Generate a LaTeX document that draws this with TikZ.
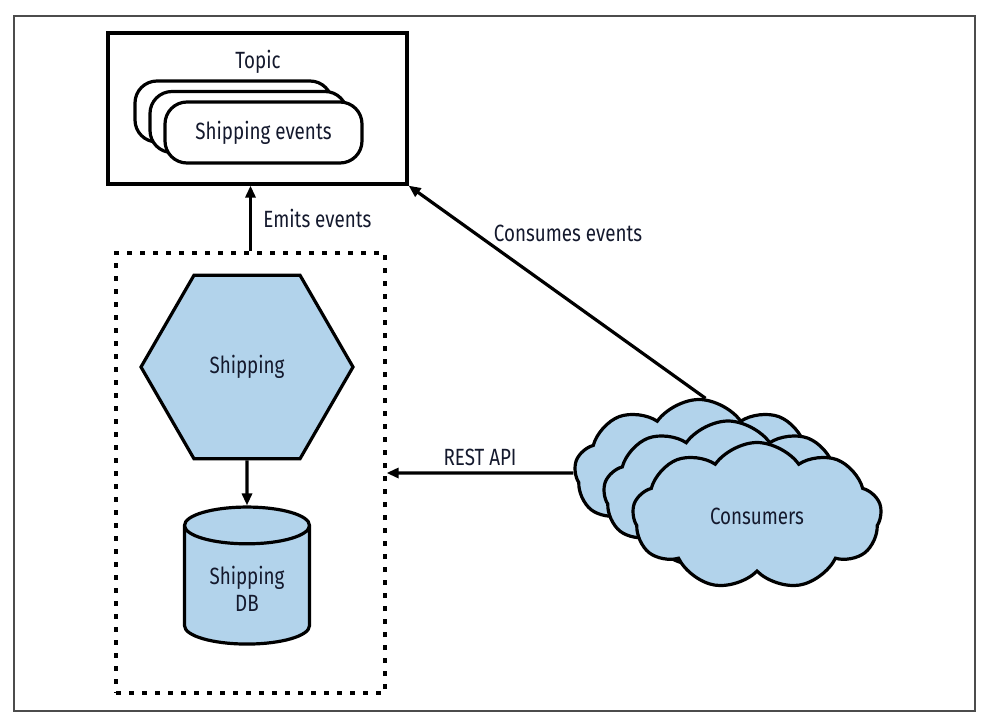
\documentclass[tikz,border=0pt]{standalone}
\usepackage{fontspec}
\setmainfont{Fira Sans}[FakeStretch=0.8]
\usetikzlibrary{arrows.meta, positioning, shapes.geometric, shapes.symbols}
\definecolor{lightblue}{RGB}{178,211,235}
\definecolor{textblue}{RGB}{20,25,45}

\begin{document}
\begin{tikzpicture}
  [x=1pt, y=-1pt, line width=3.2pt,
   font=\fontsize{23.5}{27}\selectfont, text=textblue,
   box/.style={draw, rectangle, minimum width=299pt, minimum height=151pt},
   event/.style={draw, fill=white, rounded corners=22pt, minimum width=197pt, minimum height=61pt},
   service/.style={draw, dash pattern=on 5pt off 8pt, minimum width=269pt, minimum height=440pt},
   hexa/.style={draw, fill=lightblue, regular polygon, regular polygon sides=6, minimum size=212pt, inner sep=0pt},
   store/.style={draw, fill=lightblue, cylinder, shape border rotate=90, shape aspect=0.45,
                 minimum width=125pt, minimum height=137pt, align=center},
   puff/.style={draw, fill=lightblue, cloud, cloud puffs=9, cloud puff arc=110, aspect=1.7,
                minimum width=249pt, minimum height=147pt, inner sep=0pt},
   conn/.style={-{Triangle[length=12pt, width=10pt]}}]
  \useasboundingbox (0,0) rectangle (983,725);
  \draw [line width=1.4pt, draw=black!70] (14,16) rectangle (975,711);

  % topic with stacked events
  \node (topic) at (257.5,108.5) [box] {};
  \node (topiclabel) at (258,62) {Topic};
  \foreach \i in {2,1,0}{
    \node (ev\i) at (263.5-15*\i, 132.5-10.5*\i) [event] {};
  }
  \node at (ev0) {Shipping events};

  % shipping service
  \node (svc) at (250.5,473) [service] {};
  \node (ship) at (247,367) [hexa] {Shipping};
  \node (db) at (247,588.5) [store] {Shipping\\DB};

  % consumers
  \foreach \i in {2,1,0}{
    \node (cl\i) at (757-29*\i, 516-21.5*\i) [puff] {};
  }
  \node at (cl0) {Consumers};

  \draw [conn] (svc.north) -- (svc.north |- topic.south)
    node [pos=0.5, right=8pt] {Emits events};
  \draw [conn] (ship.south) -- (db.north);
  \draw [conn] (cl2.85) -- (topic.south east);
  \node (consumes) at (568,233) {Consumes events};
  \draw [conn] (cl2.west) -- (svc.east)
    node [pos=0.5, above=2pt] {REST API};
\end{tikzpicture}
\end{document}
